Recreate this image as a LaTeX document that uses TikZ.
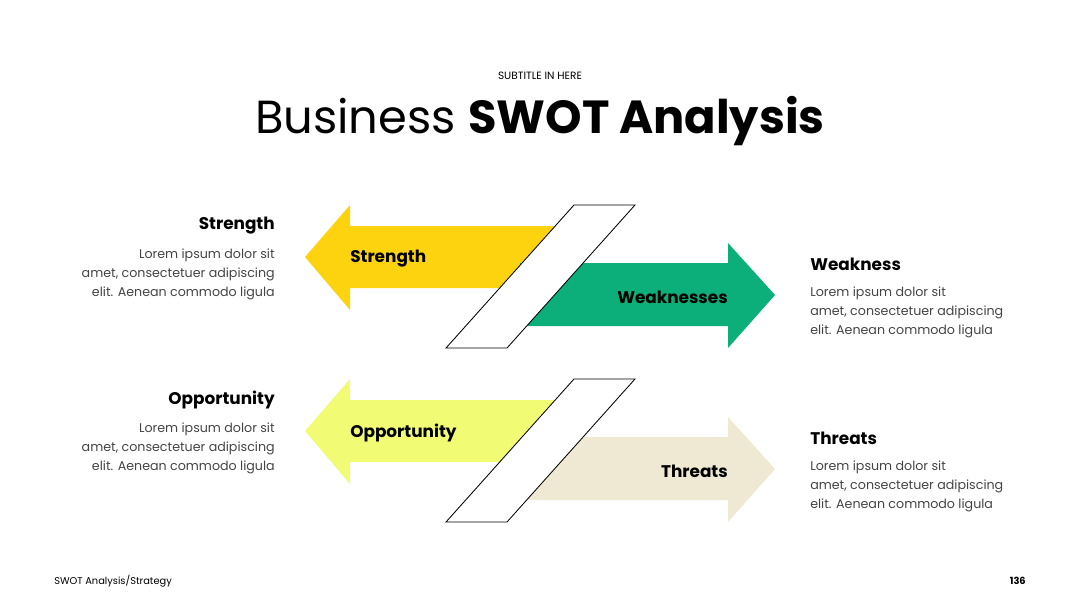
\documentclass[tikz,border=0pt]{standalone}
\usepackage{fontspec}
\setmainfont{Poppins}
\definecolor{swotyellow}{HTML}{FDD30F}
\definecolor{swotgreen}{HTML}{0CAE79}
\definecolor{swotlime}{HTML}{F2FB74}
\definecolor{swotbeige}{HTML}{EFE8D3}
\definecolor{swotgray}{HTML}{444444}
\tikzset{
  body/.style={font=\fontsize{9}{13.5}\selectfont, text=swotgray, inner sep=0pt},
  head/.style={font=\fontsize{12}{14}\selectfont\bfseries, inner sep=0pt},
  tag/.style={font=\fontsize{12}{14}\selectfont\bfseries, inner sep=0pt},
  slab/.style={fill=white, draw=black, line width=0.6pt}
}
\begin{document}
\begin{tikzpicture}[x=0.025cm, y=-0.025cm]
 \useasboundingbox (0,0) rectangle (1080,608);

 \node (sub) at (540,76) {\fontsize{7.5}{9}\selectfont SUBTITLE IN HERE};
 \node (title) at (540,121) {\fontsize{33}{38}\selectfont Business \textbf{SWOT Analysis}};

 % top pair
 \fill[swotyellow] (305,257) -- (350,205) -- (350,226) -- (560,226) -- (560,288) -- (350,288) -- (350,310) -- cycle;
 \fill[swotgreen] (520,263) -- (728,263) -- (728,243) -- (775,295) -- (728,348) -- (728,326) -- (520,326) -- cycle;
 \draw[slab] (574,205) -- (635,205) -- (507,348) -- (446,348) -- cycle;

 % bottom pair
 \fill[swotlime] (305,431) -- (350,379) -- (350,400) -- (560,400) -- (560,462) -- (350,462) -- (350,484) -- cycle;
 \fill[swotbeige] (520,437) -- (728,437) -- (728,417) -- (775,469) -- (728,522) -- (728,500) -- (520,500) -- cycle;
 \draw[slab] (574,379) -- (635,379) -- (507,522) -- (446,522) -- cycle;

 \node[tag, anchor=west] (tS) at (350,259) {Strength};
 \node[tag, anchor=east] (tW) at (728,297) {Weaknesses};
 \node[tag, anchor=west] (tO) at (350,433) {Opportunity};
 \node[tag, anchor=east] (tT) at (728,471) {Threats};

 \node[head, anchor=east] (hS) at (275,226) {Strength};
 \node[body, anchor=north east, align=right] (bS) at (275,249) {Lorem ipsum dolor sit\\amet, consectetuer adipiscing\\elit. Aenean commodo ligula};
 \node[head, anchor=east] (hO) at (275,400) {Opportunity};
 \node[body, anchor=north east, align=right] (bO) at (275,423) {Lorem ipsum dolor sit\\amet, consectetuer adipiscing\\elit. Aenean commodo ligula};
 \node[head, anchor=west] (hW) at (810,264) {Weakness};
 \node[body, anchor=north west, align=left] (bW) at (810,287) {Lorem ipsum dolor sit\\amet, consectetuer adipiscing\\elit. Aenean commodo ligula};
 \node[head, anchor=west] (hT) at (810,438) {Threats};
 \node[body, anchor=north west, align=left] (bT) at (810,461) {Lorem ipsum dolor sit\\amet, consectetuer adipiscing\\elit. Aenean commodo ligula};

 \node[anchor=west, inner sep=0pt] (foot) at (54,581) {\fontsize{7}{9}\selectfont SWOT Analysis/Strategy};
 \node[anchor=east, inner sep=0pt] (page) at (1026,581) {\fontsize{7}{9}\selectfont\bfseries 136};
\end{tikzpicture}
\end{document}
